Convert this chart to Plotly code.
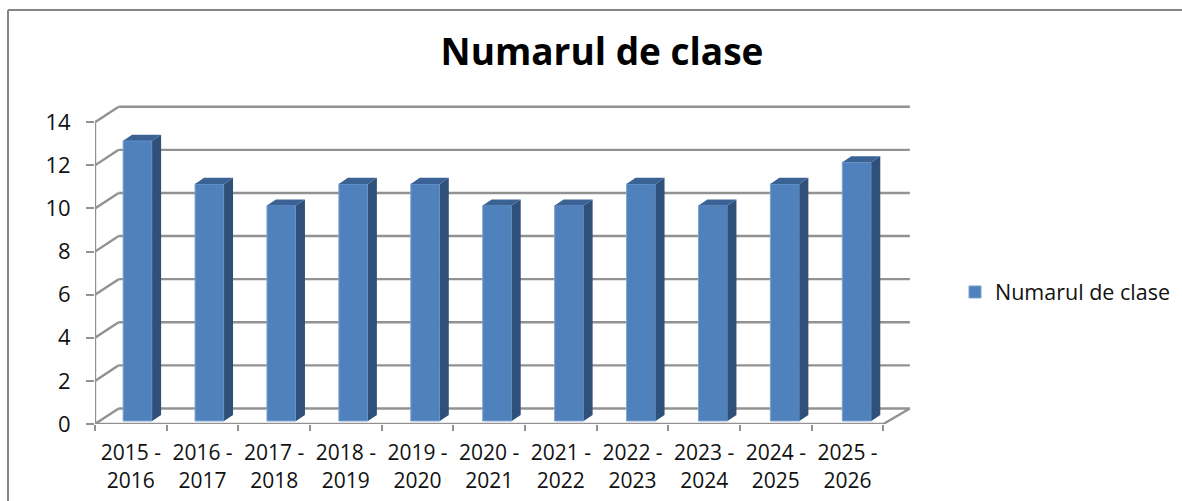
import plotly.graph_objects as go

CATEGORIES = ["2015 -<br>2016", "2016 -<br>2017", "2017 -<br>2018", "2018 -<br>2019", "2019 -<br>2020",
              "2020 -<br>2021", "2021 -<br>2022", "2022 -<br>2023", "2023 -<br>2024", "2024 -<br>2025",
              "2025 -<br>2026"]
VALUES = [13, 11, 10, 11, 11, 10, 10, 11, 10, 11, 12]
Y_TICKS = [0, 2, 4, 6, 8, 10, 12, 14]
SERIES = "Numarul de clase"
TITLE = "Numarul de clase"

W, H = 1182, 501
L, R, T, B = 95, 270, 105, 77
FONT = "Open Sans"
GRID = "#929292"
TEXT = "#111111"
X_MIN, X_MAX = -0.5, 10.9
Y_MAX = 14.8
# 3D projection offsets, in axis units
BACK_DX_L, BACK_DX_R, BACK_DY = 0.33, 0.37, 0.72
BAR_W, BAR_OFF, BAR_BASE, BAR_STEP = 0.405, 0.095, 0.14, 1.0035
BAR_DX, BAR_DY = 0.125, 0.28

n = len(CATEGORIES)
bar_x = [i * BAR_STEP + BAR_OFF for i in range(n)]
fig = go.Figure()

def poly(name, xs, ys, color):
    fig.add_trace(go.Scatter(x=xs, y=ys, mode="lines", fill="toself", fillcolor=color,
                             line=dict(color=color, width=0), showlegend=False,
                             hoverinfo="skip", cliponaxis=False, name=name))

def line(xs, ys, width=2.4):
    fig.add_trace(go.Scatter(x=xs, y=ys, mode="lines", line=dict(color=GRID, width=width),
                             showlegend=False, hoverinfo="skip", cliponaxis=False))

x0, x1 = -0.5, n - 0.5
bx0, bx1 = x0 + BACK_DX_L, x1 + BACK_DX_R

# back wall gridlines sit behind the bars; side wall diagonals
shapes = []
for v in Y_TICKS:
    shapes.append(dict(type="line", xref="x", yref="y", layer="below", x0=bx0, x1=bx1,
                       y0=v + BACK_DY, y1=v + BACK_DY, line=dict(color=GRID, width=2.4)))
    line([x0, bx0], [v, v + BACK_DY])
# floor front edge, right diagonal, front vertical axis
line([x0, x1, bx1], [0, 0, BACK_DY])
line([x0, x0], [0, max(Y_TICKS)])

# bar faces
side_x, side_y, top_x, top_y = [], [], [], []
for c, v in zip(bar_x, VALUES):
    l = c - BAR_W / 2
    r = c + BAR_W / 2
    t = v + BAR_BASE
    side_x += [r, r + BAR_DX, r + BAR_DX, r, r, None]
    side_y += [BAR_BASE, BAR_BASE + BAR_DY, t + BAR_DY, t, BAR_BASE, None]
    top_x += [l, l + BAR_DX, r + BAR_DX, r, l, None]
    top_y += [t, t + BAR_DY, t + BAR_DY, t, t, None]
poly("side", side_x, side_y, "#2f5078")
poly("top", top_x, top_y, "#3a6294")

fig.add_trace(go.Bar(x=bar_x, y=VALUES, base=BAR_BASE, width=BAR_W,
                     name=SERIES, marker=dict(color="#4f81bd", line=dict(width=1, color="#7ea3d0"))))

# outer chart frame, placed in paper fractions
pw, ph = W - L - R, H - T - B
frame_x0 = (8 - L) / pw
frame_x1 = (W - L) / pw
frame_y1 = 1 + (T - 10) / ph
frame_y0 = -B / ph
shapes += [
    dict(type="line", xref="paper", yref="paper", x0=frame_x0, x1=frame_x1, y0=frame_y1, y1=frame_y1,
         line=dict(color="#858585", width=2)),
    dict(type="line", xref="paper", yref="paper", x0=frame_x0, x1=frame_x0, y0=frame_y1, y1=frame_y0,
         line=dict(color="#858585", width=2)),
]

fig.update_layout(
    width=W, height=H, margin=dict(l=L, r=R, t=T, b=B, autoexpand=False),
    paper_bgcolor="white", plot_bgcolor="white", showlegend=True,
    font=dict(family=FONT, color=TEXT, size=21),
    title=dict(text="<b>%s</b>" % TITLE, font=dict(family=FONT, size=37, color="#000000"),
               x=602 / W, xref="container", xanchor="center",
               y=1 - 52 / H, yanchor="middle"),
    legend=dict(x=(955 - L) / pw, xanchor="left", y=1 - (292 - T) / ph, yanchor="middle",
                font=dict(size=21.5, family=FONT, color=TEXT), bgcolor="rgba(0,0,0,0)", itemwidth=30),
    xaxis=dict(range=[X_MIN, X_MAX], tickmode="array", tickvals=list(range(n)), ticktext=CATEGORIES,
               ticks="outside", ticklen=6, tickcolor="rgba(0,0,0,0)", showgrid=False, zeroline=False,
               showline=False, ticklabelstandoff=4, tickangle=0, automargin=False,
               minor=dict(tickmode="array", tickvals=[i - 0.5 for i in range(n + 1)], ticks="outside",
                          ticklen=6, tickwidth=2, tickcolor=GRID, showgrid=False)),
    yaxis=dict(range=[0, Y_MAX], tickmode="array", tickvals=Y_TICKS, ticks="outside", ticklen=8, tickwidth=2,
               tickcolor=GRID, showgrid=False, zeroline=False, showline=False, ticklabelstandoff=11,
               tickfont=dict(size=22), automargin=False),
    shapes=shapes,
)
fig.write_html("out.html", post_script="document.body.style.margin='0';",
               config=dict(displayModeBar=False))
